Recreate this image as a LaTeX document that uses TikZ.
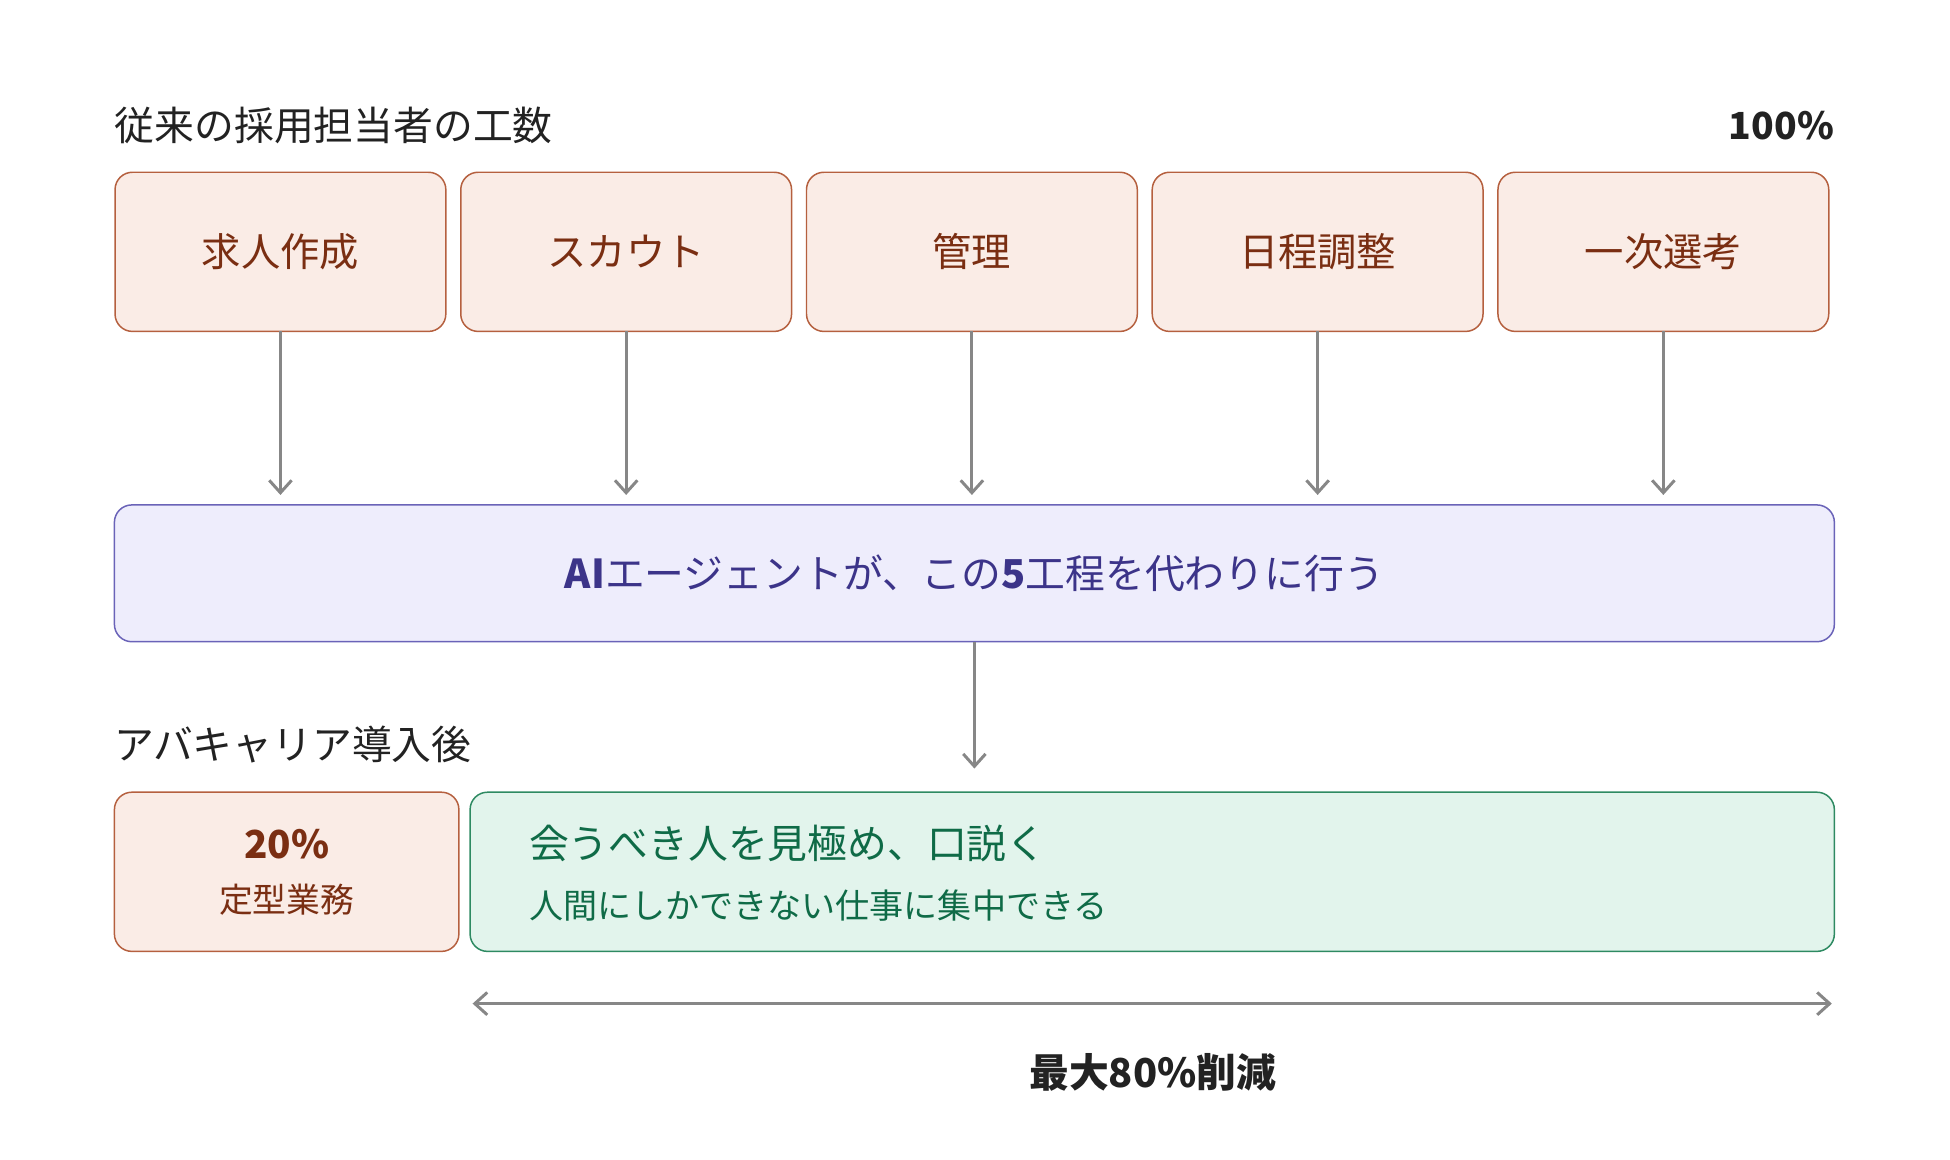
\documentclass[tikz,border=0pt]{standalone}
\usepackage{fontspec}
\setmainfont{Noto Sans CJK JP}
\usetikzlibrary{positioning,arrows.meta}
\definecolor{tskfill}{HTML}{FAECE6}
\definecolor{tskdraw}{HTML}{B5603F}
\definecolor{tsktext}{HTML}{7A2E12}
\definecolor{aifill}{HTML}{EEEDFC}
\definecolor{aidraw}{HTML}{6A63B8}
\definecolor{aitext}{HTML}{3C3489}
\definecolor{hmfill}{HTML}{E2F4EC}
\definecolor{hmdraw}{HTML}{2E8A62}
\definecolor{hmtext}{HTML}{0F6B47}
\definecolor{arrgray}{HTML}{878787}
\definecolor{inktext}{HTML}{222222}
\tikzset{
  task/.style={draw=tskdraw,fill=tskfill,rounded corners=7pt,line width=0.6pt,
    minimum width=133pt,minimum height=64pt,text=tsktext,font=\fontsize{15.8}{19}\selectfont,inner sep=0pt,outer sep=0pt},
  flow/.style={draw=arrgray,line width=1.2pt,-{Straight Barb[length=5pt,width=9pt]}},
  head/.style={font=\fontsize{16}{19}\selectfont,inner sep=0pt,text=inktext}
}
\begin{document}
\begin{tikzpicture}[x=0.5pt,y=-0.5pt]
\useasboundingbox (0,0) rectangle (1568,932);
% header
\node[head,anchor=west] (hd1) at (92,101) {従来の採用担当者の工数};
\node[head,anchor=east,font=\bfseries\fontsize{15}{18}\selectfont] (pct) at (1475,101) {100\%};
% five tasks
\node[task] (t1) at (225.5,202.5) {求人作成};
\node[task,right=6pt of t1] (t2) {スカウト};
\node[task,right=6pt of t2] (t3) {管理};
\node[task,right=6pt of t3] (t4) {日程調整};
\node[task,right=6pt of t4] (t5) {一次選考};
% agent
\node[draw=aidraw,fill=aifill,rounded corners=7pt,line width=0.6pt,minimum width=691.5pt,minimum height=55pt,
  text=aitext,font=\fontsize{16}{19}\selectfont,outer sep=0pt] (ai) at (783.5,461) {\textbf{AI}エージェントが、この\textbf{5}工程を代わりに行う};
\foreach \t in {t1,t2,t3,t4,t5}
  \draw[flow] (\t.south) -- (\t.south |- 0,398);
\coordinate (aiend) at (783.5,618);
\draw[flow] (ai.south) -- (aiend);
% after
\node[head,anchor=west] (hd2) at (92,599) {アバキャリア導入後};
\node[draw=tskdraw,fill=tskfill,rounded corners=7pt,line width=0.6pt,minimum width=138.5pt,minimum height=64pt,
  inner sep=0pt] (rest) at (230.5,701) {};
\node[text=tsktext,font=\bfseries\fontsize{15.5}{18}\selectfont] (restp) at (230.5,679) {20\%};
\node[text=tsktext,font=\fontsize{13.6}{16}\selectfont,below=3pt of restp] (restl) {定型業務};
\node[draw=hmdraw,fill=hmfill,rounded corners=7pt,line width=0.6pt,minimum width=548.5pt,minimum height=64pt,
  inner sep=0pt] (human) at (926.5,701) {};
\node[text=hmtext,font=\fontsize{16}{19}\selectfont,anchor=west,inner sep=0pt] (hmtitle) at (425,678) {会うべき人を見極め、口説く};
\node[text=hmtext,font=\fontsize{13.7}{16}\selectfont,anchor=west,inner sep=0pt] (hmsub) at (425,728) {人間にしかできない仕事に集中できる};
% reduction
\coordinate (redl) at (380,807);
\coordinate (redr) at (1473,807);
\draw[draw=arrgray,line width=1.2pt,{Straight Barb[length=5pt,width=9pt]}-{Straight Barb[length=5pt,width=9pt]}] (redl) -- (redr);
\node[font=\bfseries\fontsize{16}{19}\selectfont,text=inktext] (red) at (927,862) {最大80\%削減};
\end{tikzpicture}
\end{document}
